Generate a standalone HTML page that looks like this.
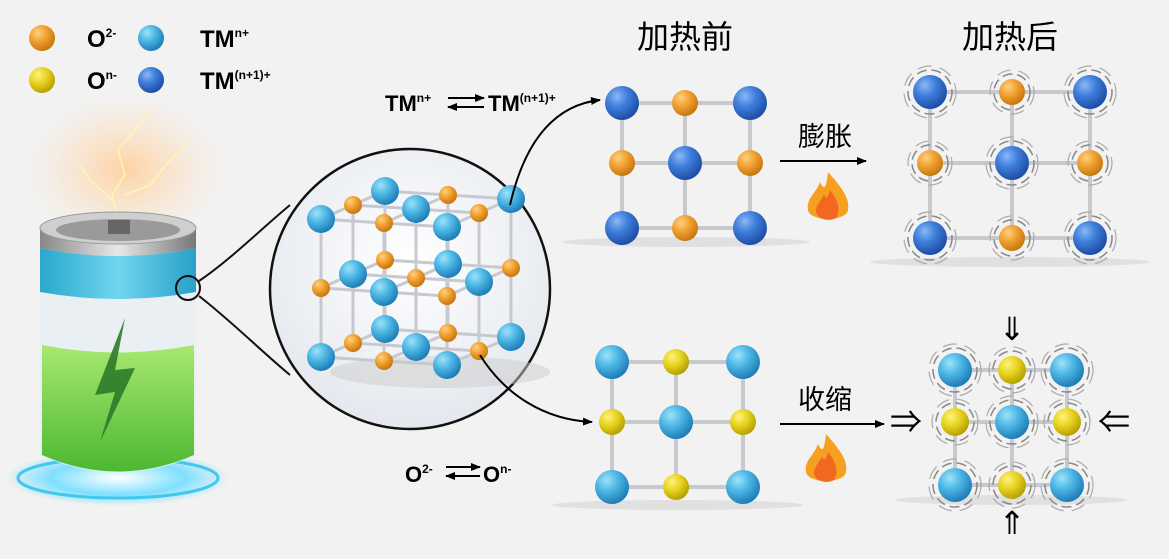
<!DOCTYPE html>
<html><head><meta charset="utf-8"><style>
html,body{margin:0;padding:0;background:#f2f2f2;}
svg{display:block}
text{font-family:"Liberation Sans","Noto Sans CJK SC",sans-serif;}
</style></head><body>
<svg width="1169" height="559" viewBox="0 0 1169 559" xmlns="http://www.w3.org/2000/svg">
<defs>
<radialGradient id="gL" cx="35%" cy="30%" r="70%"><stop offset="0" stop-color="#9fe2f8"/><stop offset="0.45" stop-color="#4fb9e6"/><stop offset="1" stop-color="#1f7fb8"/></radialGradient>
<radialGradient id="gD" cx="35%" cy="30%" r="70%"><stop offset="0" stop-color="#8ab8f5"/><stop offset="0.45" stop-color="#3f7fdc"/><stop offset="1" stop-color="#1f4fa8"/></radialGradient>
<radialGradient id="gO" cx="35%" cy="30%" r="70%"><stop offset="0" stop-color="#ffd080"/><stop offset="0.5" stop-color="#f0a030"/><stop offset="1" stop-color="#c87810"/></radialGradient>
<radialGradient id="gY" cx="35%" cy="30%" r="70%"><stop offset="0" stop-color="#fff27a"/><stop offset="0.5" stop-color="#e6d320"/><stop offset="1" stop-color="#b8a200"/></radialGradient>
<radialGradient id="glow" cx="50%" cy="50%" r="50%"><stop offset="0" stop-color="#ffcf9a" stop-opacity="0.9"/><stop offset="1" stop-color="#ffe0c0" stop-opacity="0"/></radialGradient>
<radialGradient id="base" cx="50%" cy="50%" r="50%"><stop offset="0" stop-color="#ffffff"/><stop offset="0.6" stop-color="#7fe0ff"/><stop offset="1" stop-color="#7fe0ff" stop-opacity="0"/></radialGradient>
<linearGradient id="green" x1="0" y1="0" x2="0" y2="1"><stop offset="0" stop-color="#a8e870"/><stop offset="1" stop-color="#4cb830"/></linearGradient>
<linearGradient id="teal" x1="0" y1="0" x2="1" y2="0"><stop offset="0" stop-color="#2aa8cc"/><stop offset="0.5" stop-color="#6fd6ee"/><stop offset="1" stop-color="#2aa0c8"/></linearGradient>
<linearGradient id="silver" x1="0" y1="0" x2="1" y2="0"><stop offset="0" stop-color="#888"/><stop offset="0.5" stop-color="#e8e8e8"/><stop offset="1" stop-color="#777"/></linearGradient>
<radialGradient id="circbg" cx="50%" cy="40%" r="60%"><stop offset="0" stop-color="#ffffff"/><stop offset="1" stop-color="#e4e8ee"/></radialGradient>
<marker id="ar" markerWidth="10" markerHeight="8" refX="9" refY="4" orient="auto" markerUnits="userSpaceOnUse"><path d="M0,0 L10,4 L0,8 Z" fill="#000"/></marker>
</defs>

<circle cx="42" cy="38" r="13" fill="url(#gO)"/>
<text x="87" y="47" font-size="24" font-weight="bold">O<tspan font-size="12" dy="-10">2-</tspan></text>
<circle cx="151" cy="38" r="13" fill="url(#gL)"/>
<text x="200" y="47" font-size="24" font-weight="bold">TM<tspan font-size="12" dy="-10">n+</tspan></text>
<circle cx="42" cy="80" r="13" fill="url(#gY)"/>
<text x="87" y="89" font-size="24" font-weight="bold">O<tspan font-size="12" dy="-10">n-</tspan></text>
<circle cx="151" cy="80" r="13" fill="url(#gD)"/>
<text x="200" y="89" font-size="24" font-weight="bold">TM<tspan font-size="12" dy="-10">(n+1)+</tspan></text>

<ellipse cx="125" cy="170" rx="100" ry="75" fill="url(#glow)"/>
<path d="M120,225 L112,195 L125,175 L118,150 L135,130 L150,110 M125,195 L150,185 L170,160 L190,140 M112,200 L90,180 L80,165" stroke="#fff6b0" stroke-width="1.5" fill="none"/>
<ellipse cx="118" cy="478" rx="112" ry="28" fill="url(#base)"/>
<ellipse cx="118" cy="478" rx="100" ry="20" fill="none" stroke="#40c8f0" stroke-width="3"/>
<path d="M40,240 L40,455 Q118,490 196,455 L196,240 Z" fill="#e6eef2" fill-opacity="0.8"/>
<path d="M42,345 Q118,360 194,345 L194,455 Q118,488 42,455 Z" fill="url(#green)"/>
<path d="M40,248 Q118,264 196,248 L196,292 Q118,306 40,292 Z" fill="url(#teal)"/>
<path d="M125,318 L95,395 L115,392 L100,442 L135,368 L115,370 Z" fill="#2e7a2a" opacity="0.9"/>
<path d="M40,228 L40,248 Q118,264 196,248 L196,228 Z" fill="url(#silver)"/>
<ellipse cx="118" cy="228" rx="78" ry="16" fill="#cfcfcf" stroke="#999"/>
<ellipse cx="118" cy="230" rx="62" ry="11" fill="#9a9a9a"/>
<rect x="108" y="220" width="22" height="14" fill="#666"/>
<circle cx="188" cy="288" r="12" fill="none" stroke="#111" stroke-width="2"/>

<circle cx="410" cy="289" r="140" fill="url(#circbg)" stroke="#111" stroke-width="2.5"/>
<path d="M199,281 C230,260 260,230 290,205" stroke="#111" stroke-width="2" fill="none"/>
<path d="M199,296 C230,320 260,350 290,375" stroke="#111" stroke-width="2" fill="none"/>
<ellipse cx="440" cy="372" rx="110" ry="16" fill="#ccc" opacity="0.5"/>
<g id="lattice"></g>

<text x="385" y="111" font-size="22" font-weight="bold">TM<tspan font-size="12" dy="-9">n+</tspan></text>
<line x1="448" y1="98" x2="484" y2="98" stroke="#000" stroke-width="2" marker-end="url(#ar)"/>
<line x1="484" y1="107" x2="448" y2="107" stroke="#000" stroke-width="2" marker-end="url(#ar)"/>
<text x="488" y="111" font-size="22" font-weight="bold">TM<tspan font-size="12" dy="-9">(n+1)+</tspan></text>
<path d="M510,205 C525,140 555,105 600,100" stroke="#000" stroke-width="2" fill="none" marker-end="url(#ar)"/>
<path d="M480,355 C505,395 545,420 592,422" stroke="#000" stroke-width="2" fill="none" marker-end="url(#ar)"/>
<text x="405" y="482" font-size="22" font-weight="bold">O<tspan font-size="12" dy="-9">2-</tspan></text>
<line x1="446" y1="467" x2="480" y2="467" stroke="#000" stroke-width="2" marker-end="url(#ar)"/>
<line x1="480" y1="476" x2="446" y2="476" stroke="#000" stroke-width="2" marker-end="url(#ar)"/>
<text x="483" y="482" font-size="22" font-weight="bold">O<tspan font-size="12" dy="-9">n-</tspan></text>

<text x="637" y="48" font-size="32" font-family="Noto Sans CJK SC,sans-serif">加热前</text>
<text x="962" y="48" font-size="32" font-family="Noto Sans CJK SC,sans-serif">加热后</text>

<text x="798" y="146" font-size="27" font-family="Noto Sans CJK SC,sans-serif">膨胀</text>
<line x1="780" y1="161" x2="866" y2="161" stroke="#000" stroke-width="2" marker-end="url(#ar)"/>
<text x="798" y="409" font-size="27" font-family="Noto Sans CJK SC,sans-serif">收缩</text>
<line x1="780" y1="424" x2="884" y2="424" stroke="#000" stroke-width="2" marker-end="url(#ar)"/>

<g id="flame1" transform="translate(828,200)">
<path d="M0,-28 C14,-12 22,-2 20,10 C18,22 -18,22 -20,10 C-22,-2 -12,-6 -8,-18 C-4,-10 -2,-10 0,-28 Z" fill="#f7a020"/>
<path d="M2,-10 C12,2 12,12 8,18 C2,22 -10,20 -12,12 C-12,4 -6,0 -4,-6 C-2,0 0,-2 2,-10 Z" fill="#f05a20" opacity="0.8"/>
</g>
<use href="#flame1" transform="translate(-2,262)"/>

<text x="1012" y="340" font-size="32" text-anchor="middle">⇓</text>
<text x="1012" y="534" font-size="32" text-anchor="middle">⇑</text>
<text x="906" y="433" font-size="32" text-anchor="middle">⇒</text>
<text x="1114" y="433" font-size="32" text-anchor="middle">⇐</text>

<g id="grids"></g>
</svg>
<script>
var NS="http://www.w3.org/2000/svg";
function el(p,t,a){var e=document.createElementNS(NS,t);for(var k in a)e.setAttribute(k,a[k]);p.appendChild(e);return e;}
var L=document.getElementById('lattice');
var O=[321,357],X=[63,4],Z=[32,-14],Y=[0,-69];
function P(i,j,k){return [O[0]+i*X[0]+k*Z[0]+j*Y[0],O[1]+i*X[1]+k*Z[1]+j*Y[1]];}
var ln={stroke:"#c8c9cf","stroke-width":3};
for(var i=0;i<3;i++)for(var j=0;j<3;j++)for(var k=0;k<3;k++){var a=P(i,j,k);
 if(i<2){var b=P(i+1,j,k);el(L,'line',Object.assign({x1:a[0],y1:a[1],x2:b[0],y2:b[1]},ln));}
 if(j<2){var b=P(i,j+1,k);el(L,'line',Object.assign({x1:a[0],y1:a[1],x2:b[0],y2:b[1]},ln));}
 if(k<2){var b=P(i,j,k+1);el(L,'line',Object.assign({x1:a[0],y1:a[1],x2:b[0],y2:b[1]},ln));}}
for(var k=2;k>=0;k--)for(var j=2;j>=0;j--)for(var i=0;i<3;i++){var a=P(i,j,k);var blue=(i+j+k)%2==0;
 el(L,'circle',{cx:a[0],cy:a[1],r:blue?14:9,fill:blue?'url(#gL)':'url(#gO)'});}
var G=document.getElementById('grids');
function grid(xs,ys,big,small,rb,rs,dash,shadowY){
 el(G,'ellipse',{cx:(xs[0]+xs[2])/2,cy:shadowY,rx:(xs[2]-xs[0])/2+60,ry:5,fill:'#d8d8d8',opacity:0.7});
 for(var r=0;r<3;r++){el(G,'line',{x1:xs[0],y1:ys[r],x2:xs[2],y2:ys[r],stroke:'#c8c9cf','stroke-width':4});
  el(G,'line',{x1:xs[r],y1:ys[0],x2:xs[r],y2:ys[2],stroke:'#c8c9cf','stroke-width':4});}
 for(var r=0;r<3;r++)for(var c=0;c<3;c++){var b=(r+c)%2==0;var rr=b?rb:rs;
  if(dash){el(G,'circle',{cx:xs[c],cy:ys[r],r:rr+5,fill:'none',stroke:'#888','stroke-width':1.5,'stroke-dasharray':'10 5'});
   el(G,'circle',{cx:xs[c],cy:ys[r],r:rr+9,fill:'none',stroke:'#aaa','stroke-width':1.2,'stroke-dasharray':'14 8'});}
  el(G,'circle',{cx:xs[c],cy:ys[r],r:rr,fill:b?big:small});}}
grid([622,685,750],[103,163,228],'url(#gD)','url(#gO)',17,13,false,242);
grid([930,1012,1090],[92,163,238],'url(#gD)','url(#gO)',17,13,true,262);
grid([612,676,743],[362,422,487],'url(#gL)','url(#gY)',17,13,false,505);
grid([955,1012,1067],[370,422,485],'url(#gL)','url(#gY)',17,14,true,500);
</script>
</body></html>
